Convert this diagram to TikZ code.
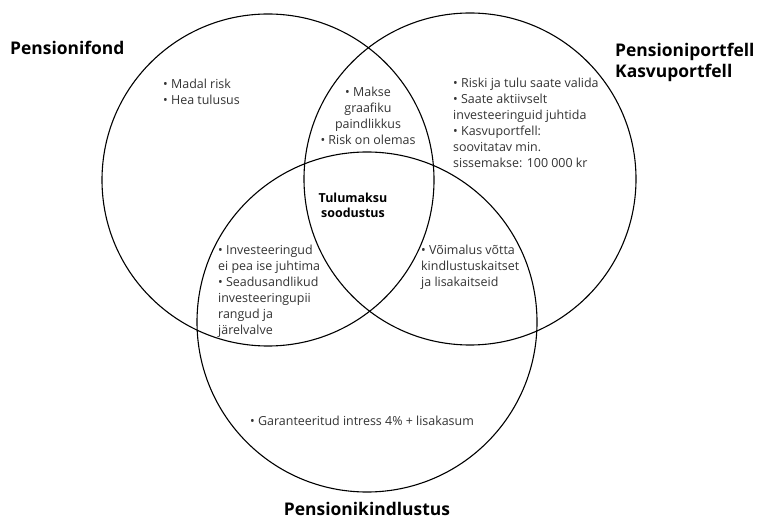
\documentclass[tikz,border=0pt]{standalone}
\usepackage{fontspec}
\setmainfont{Open Sans}
\begin{document}
\begin{tikzpicture}[x=1bp, y=-1bp]
      \tikzset{venn/.style={draw, circle, line width=1.1bp, minimum size=332bp, inner sep=0pt},
               small/.style={inner sep=0pt, font=\fontsize{12.5}{16}\selectfont, text=black!80},
               title/.style={inner sep=0pt, font=\fontsize{17.5}{21}\selectfont\bfseries}}
      \useasboundingbox (0,0) rectangle (772,519);

      \node[venn] (fond) at (268,180) {};
      \node[venn] (portfell) at (470,179) {};
      \node[venn, minimum size=340bp] (kindl) at (367,322) {};

      \node[title, anchor=west] (tfond) at (10,48) {Pensionifond};
      \node[title, anchor=north west, align=left] (tportfell) at (615,43) {Pensioniportfell\\Kasvuportfell};
      \node[title, anchor=base] (tkindl) at (367,515) {Pensionikindlustus};

      \node[small, anchor=north west, align=left] (fondtxt) at (163,79) {• Madal risk\\• Hea tulusus};
      \node[small, anchor=north, align=center] (fpkoos) at (368,87) {• Makse\\graafiku\\paindlikkus\\• Risk on olemas};
      \node[small, anchor=north west, align=left] (portftxt) at (453,78)
            {• Riski ja tulu saate valida\\• Saate aktiivselt\\investeeringuid juhtida\\• Kasvuportfell:\\soovitatav min.\\sissemakse: 100 000 kr};
      \node[small, anchor=north west, align=left] (fkkoos) at (218,245)
            {• Investeeringud\\ei pea ise juhtima\\• Seadusandlikud\\investeeringupii\\rangud ja\\järelvalve};
      \node[small, anchor=north west, align=left] (pkkoos) at (421,245) {• Võimalus võtta\\kindlustuskaitset\\ja lisakaitseid};
      \node[small, anchor=west] (kindltxt) at (250,421) {• Garanteeritud intress 4\% + lisakasum};

      \node[inner sep=0pt, align=center, font=\fontsize{12.5}{15}\selectfont\bfseries] (koos) at (353,205) {Tulumaksu\\soodustus};
\end{tikzpicture}
\end{document}
